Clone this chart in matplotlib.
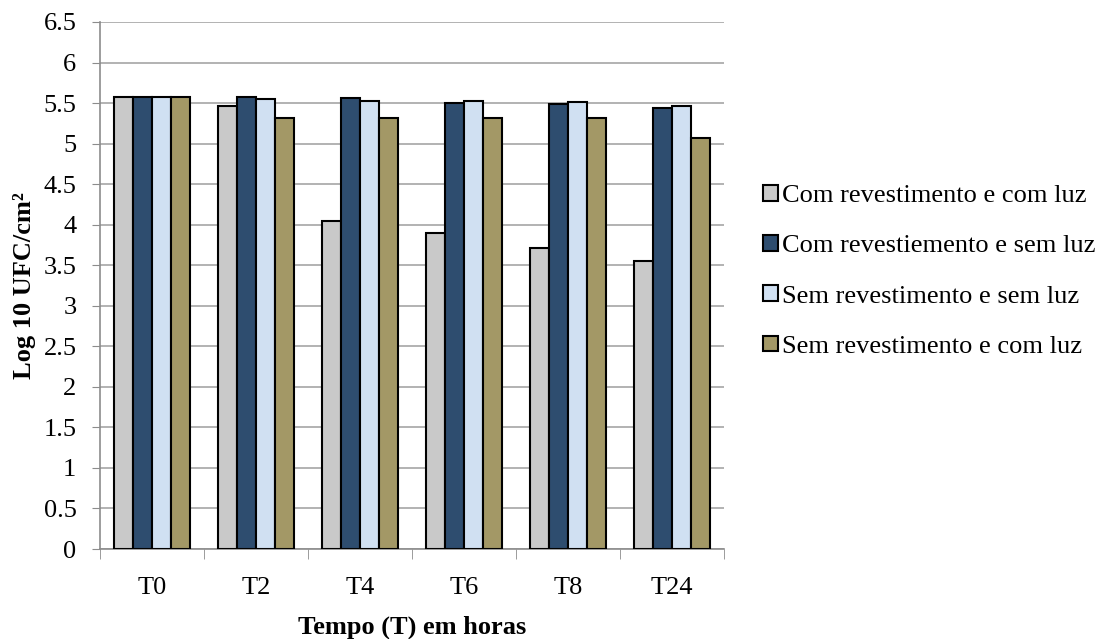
import numpy as np
import matplotlib
matplotlib.use("Agg")
import matplotlib.pyplot as plt

plt.rcParams["font.family"] = ["Liberation Serif", "DejaVu Serif"]

categories = ["T0", "T2", "T4", "T6", "T8", "T24"]
series_names = [
    "Com revestimento e com luz",
    "Com revestiemento e sem luz",
    "Sem revestimento e sem luz",
    "Sem revestimento e com luz",
]
com_rev_com_luz = [5.57, 5.46, 4.04, 3.90, 3.71, 3.55]
com_rev_sem_luz = [5.57, 5.57, 5.56, 5.50, 5.49, 5.44]
sem_rev_sem_luz = [5.57, 5.55, 5.53, 5.52, 5.51, 5.46]
sem_rev_com_luz = [5.57, 5.32, 5.32, 5.31, 5.31, 5.07]
colors = ["#c9c9c9", "#2e4d6f", "#d0e0f2", "#a39866"]

values = [com_rev_com_luz, com_rev_sem_luz, sem_rev_sem_luz, sem_rev_com_luz]

fs = 19
fig = plt.figure(figsize=(10.99, 6.39), dpi=100)
ax = fig.add_axes([100 / 1099, 1 - 549 / 639, 624 / 1099, 527 / 639])

x = np.arange(len(categories))
w = 0.182
for i, (vals, name, c) in enumerate(zip(values, series_names, colors)):
    ax.bar(x + (i - 1.5) * w, vals, width=w, color=c, edgecolor="black",
           linewidth=1.5, label=name, zorder=3)

ax.set_xlim(-0.5, len(categories) - 0.5)
ax.set_ylim(0, 6.5)
yt = np.arange(0, 6.51, 0.5)
ax.set_yticks(yt)
ax.set_yticklabels([f"{v:g}" for v in yt])
ax.set_xticks(x)
ax.set_xticklabels(categories)
ax.set_xticks(np.arange(-0.5, len(categories), 1), minor=True)
ax.tick_params(axis="x", which="major", length=0, pad=20, labelsize=fs)
ax.tick_params(axis="x", which="minor", length=7, color="#8c8c8c")
ax.tick_params(axis="y", length=6, color="#8c8c8c", labelsize=fs, pad=11)
ax.grid(axis="y", color="#a6a6a6", linewidth=1.2, zorder=0)
for s in ["top", "right"]:
    ax.spines[s].set_visible(False)
for s in ["left", "bottom"]:
    ax.spines[s].set_color("#8c8c8c")
    ax.spines[s].set_linewidth(1.2)

ax.set_xlabel("Tempo (T) em horas", fontsize=fs, fontweight="bold", labelpad=12)
ax.set_ylabel("Log 10 UFC/cm²", fontsize=fs, fontweight="bold", labelpad=5)

ax.legend(loc="center left", bbox_to_anchor=(1.033, 0.527), frameon=False,
          fontsize=fs, handlelength=0.55, handleheight=0.55, handletextpad=0.15,
          labelspacing=1.06, borderaxespad=0.3)

fig.savefig("out.png", dpi=100)
